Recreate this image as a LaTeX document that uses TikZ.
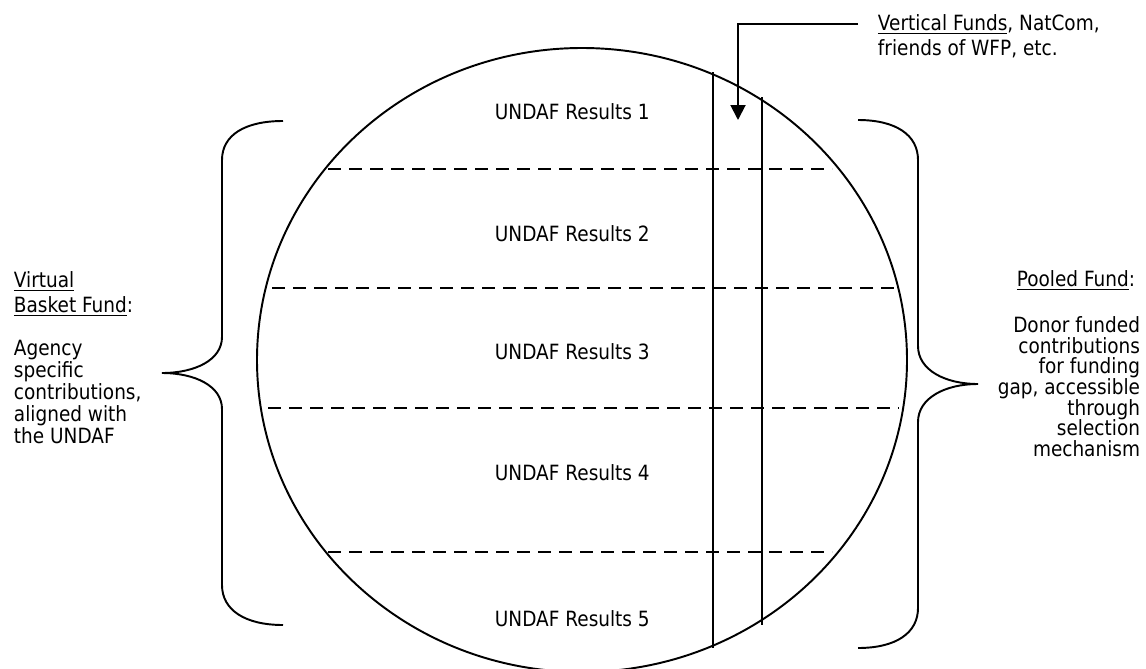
\documentclass[tikz,border=0pt]{standalone}
\usepackage{fontspec}
\setmainfont{DejaVu Sans}[FakeStretch=0.88]
\usetikzlibrary{arrows.meta,shapes.geometric}
\newcommand\myul[1]{\setbox0\hbox{#1}\rlap{\rule[-3pt]{\wd0}{1.1pt}}\box0}
\begin{document}
\begin{tikzpicture}[x=0.75pt,y=-0.75pt,line width=1.45pt,
  txt/.style={inner sep=0pt,font=\fontsize{15.75pt}{18pt}\selectfont},
  lt/.style={txt,anchor=base west},
  rt/.style={txt,anchor=base east},
  dashln/.style={dash pattern=on 9.75pt off 6pt},
  bracepath/.style={line width=1.45pt}]
\useasboundingbox (0,0) rectangle (1146,668);
\fill[white] (0,0) rectangle (1146,668);

% circle
\node[draw,ellipse,minimum width=487.5pt,minimum height=468pt,inner sep=0pt] (circ) at (582,360) {};

% dashed separators
\coordinate (d1a) at (328,169); \coordinate (d1b) at (832,169);
\coordinate (d2a) at (272,288); \coordinate (d2b) at (897,288);
\coordinate (d3a) at (268,408); \coordinate (d3b) at (899,408);
\coordinate (d4a) at (328,552); \coordinate (d4b) at (832,552);
\draw[dashln] (d1a) -- (d1b);
\draw[dashln] (d2a) -- (d2b);
\draw[dashln] (d3a) -- (d3b);
\draw[dashln] (d4a) -- (d4b);

% vertical lines
\coordinate (v1t) at (713,72); \coordinate (v1b) at (713,648);
\coordinate (v2t) at (762,97); \coordinate (v2b) at (762,625);
\draw (v1t) -- (v1b);
\draw (v2t) -- (v2b);

% results labels
\node[lt] (r1) at (494,119) {UNDAF Results 1};
\node[lt] (r2) at (494,241) {UNDAF Results 2};
\node[lt] (r3) at (494,359) {UNDAF Results 3};
\node[lt] (r4) at (494,480) {UNDAF Results 4};
\node[lt] (r5) at (494,626) {UNDAF Results 5};

% vertical funds text and arrow
\node[lt] (vf1) at (877,30) {\myul{Vertical Funds}, NatCom,};
\node[lt] (vf2) at (877,55) {friends of WFP, etc.};
\coordinate (arst) at (858,24);
\coordinate (artip) at (738,120);
\draw[-{Triangle[length=11.25pt,width=11.25pt]}] (arst) -| (artip);

% left brace
\draw[bracepath] (283,121) .. controls (245,121) and (222,135) .. (222,160)
  -- (222,337) .. controls (222,360) and (195,373) .. (162,373)
  .. controls (195,373) and (222,386) .. (222,409)
  -- (222,585) .. controls (222,610) and (245,625) .. (283,625);

% right brace
\draw[bracepath] (858,120) .. controls (896,120) and (918,135) .. (918,160)
  -- (918,346) .. controls (918,370) and (945,384) .. (978,384)
  .. controls (945,384) and (918,398) .. (918,422)
  -- (918,608) .. controls (918,633) and (896,648) .. (858,648);

% left text
\node[lt] (l1) at (13,287) {\myul{Virtual}};
\node[lt] (l2) at (13,312) {\myul{Basket Fund}:};
\node[lt] (l3) at (13,355) {Agency};
\node[lt] (l4) at (13,377) {specific};
\node[lt] (l5) at (13,399) {contributions,};
\node[lt] (l6) at (13,421) {aligned with};
\node[lt] (l7) at (13,443) {the UNDAF};

% right text
\node[rt] (p1) at (1136,286) {\myul{Pooled Fund}:};
\node[rt] (p2) at (1141,332) {Donor funded};
\node[rt] (p3) at (1141,353) {contributions};
\node[rt] (p4) at (1141,373) {for funding};
\node[rt] (p5) at (1141,394) {gap, accessible};
\node[rt] (p6) at (1141,415) {through};
\node[rt] (p7) at (1141,435) {selection};
\node[rt] (p8) at (1141,456) {mechanism};
\end{tikzpicture}
\end{document}
